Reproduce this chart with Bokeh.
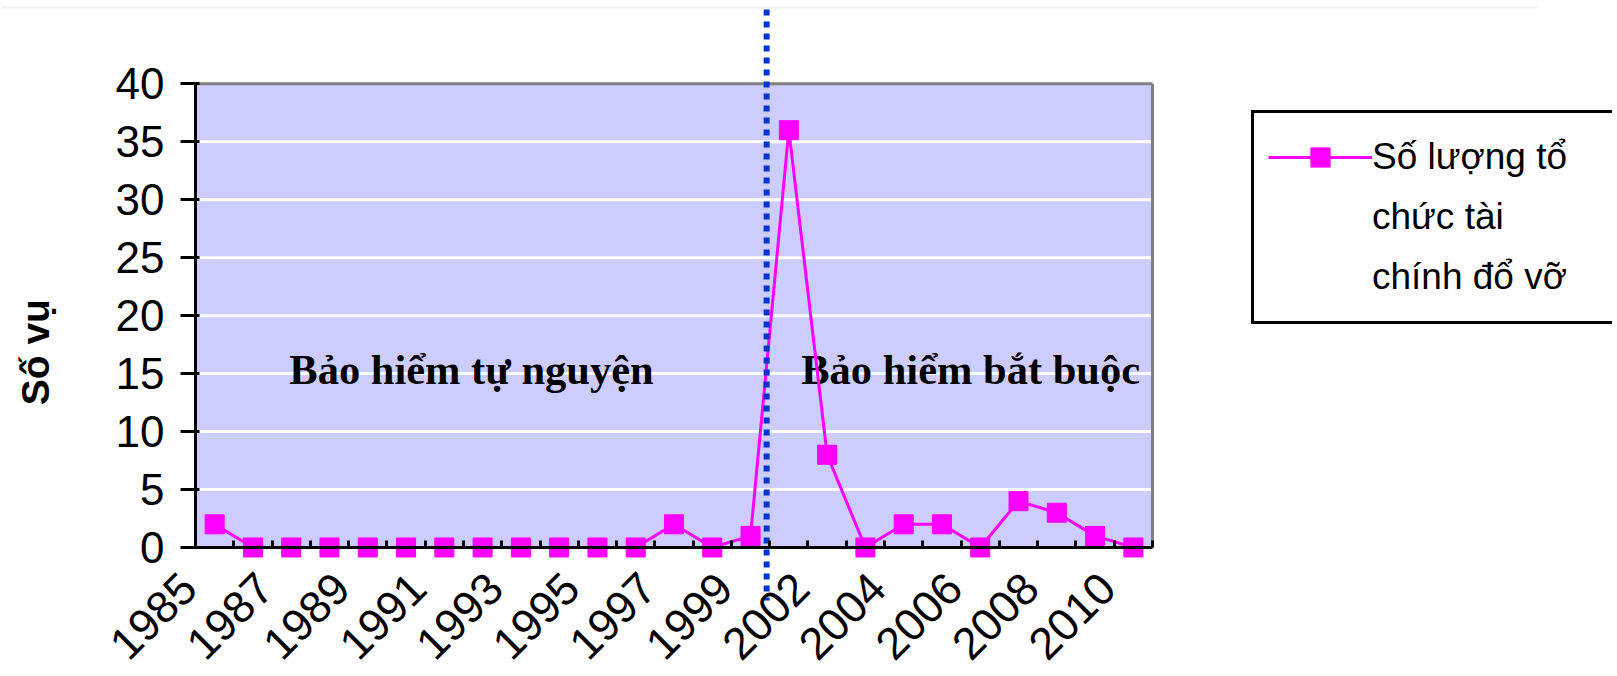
import math
from bokeh.plotting import figure
from bokeh.models import Range1d, FixedTicker, Label, Legend, LegendItem
from bokeh.core.properties import value
from bokeh.embed import file_html
from bokeh.resources import INLINE

# ---------------- data ----------------
years = [str(y) for y in range(1985, 2000)] + [str(y) for y in range(2001, 2011)]
counts = [2, 0, 0, 0, 0, 0, 0, 0, 0, 0, 0, 0, 2, 0, 1, 36, 8, 0, 2, 2, 0, 4, 3, 1, 0]
y_ticks = [0, 5, 10, 15, 20, 25, 30, 35, 40]
label_every = 2
series_lines = ["Số lượng tổ", "chức tài", "chính đổ vỡ"]
y_title = "Số vụ"
region_texts = ["Bảo hiểm tự nguyện", "Bảo hiểm bắt buộc"]

# ---------------- layout constants ----------------
W, H = 1612, 675
n = len(years)
xs = list(range(n))
x_lo, x_hi = -0.5, n - 0.5
y_lo, y_hi = y_ticks[0], y_ticks[-1]

SANS = "Liberation Sans"
SERIF = "Liberation Serif"
MAGENTA = "#FF00FF"
PLOT_BG = "#CCCCFF"

# the frame covers the whole canvas so nothing gets clipped
p = figure(width=W, height=H, output_backend="svg", toolbar_location=None,
           x_range=Range1d(-5.594, 36.517), y_range=Range1d(-11.042, 47.186),
           min_border_left=0, min_border_right=0, min_border_top=0,
           min_border_bottom=0)
p.outline_line_color = None
p.background_fill_color = "white"
p.border_fill_color = "white"
p.xgrid.visible = False
p.ygrid.visible = False

# faint frame line of the surrounding object at the very top
p.segment(x0=[-5.594], x1=[34.56], y0=[46.58], y1=[46.58],
          line_color="#EEF2F2", line_width=2)

# plot-area background
p.quad(left=[x_lo], right=[x_hi], bottom=[y_lo], top=[y_hi],
       fill_color=PLOT_BG, line_color=None)
# horizontal white grid lines
gy = y_ticks[1:-1]
p.segment(x0=[x_lo] * len(gy), x1=[x_hi] * len(gy), y0=gy, y1=gy,
          line_color="white", line_width=3)
# gray top / right border
p.segment(x0=[x_lo, x_hi], x1=[x_hi, x_hi], y0=[y_hi, y_lo], y1=[y_hi, y_hi],
          line_color="#808080", line_width=3)

# region annotations
p.text(x=[6.71, 19.75], y=[15.35, 15.35], text=region_texts,
       text_font=value(SERIF), text_font_style="bold", text_font_size="42.5px",
       text_align="center", text_baseline="alphabetic", text_color="black")

# series
line_r = p.line(xs, counts, line_color=MAGENTA, line_width=3)
sc_r = p.scatter(xs, counts, marker="square", size=19, fill_color=MAGENTA,
                 line_color=MAGENTA)
dummy = p.scatter([], [], marker="square", fill_alpha=0, line_alpha=0)

# divider between voluntary and compulsory periods
p.segment(x0=[14.42], x1=[14.42], y0=[46.41], y1=[-4.57], line_color="#0033CC",
          line_width=6, line_dash="6 6")

# y axis (drawn inside the frame at the plot-area edge)
ya = p.yaxis[0]
ya.fixed_location = x_lo
ya.ticker = FixedTicker(ticks=y_ticks)
ya.bounds = (y_lo, y_hi)
ya.axis_line_color = "black"
ya.axis_line_width = 3
ya.major_tick_line_width = 3
ya.major_tick_line_color = "black"
ya.major_tick_out = 15
ya.major_tick_in = 4
ya.minor_tick_line_color = None
ya.major_label_standoff = 16
ya.major_label_text_font = SANS
ya.major_label_text_font_size = "44px"
ya.major_label_text_color = "black"

# x axis: line + category-boundary ticks; labels drawn as rotated text below
xa = p.xaxis[0]
xa.fixed_location = y_lo
xa.bounds = (x_lo, x_hi)
xa.ticker = FixedTicker(ticks=[], minor_ticks=[i - 0.5 for i in range(n + 1)])
xa.major_tick_line_color = None
xa.major_label_text_alpha = 0
xa.minor_tick_line_color = "black"
xa.minor_tick_line_width = 3
xa.minor_tick_in = 7
xa.minor_tick_out = 0
xa.axis_line_color = "black"
xa.axis_line_width = 3

lab_x = xs[::label_every]
lab_t = [years[i] for i in lab_x]
p.text(x=lab_x, y=[y_lo] * len(lab_x), text=lab_t, angle=math.pi / 4,
       x_offset=-26, y_offset=33, text_align="right", text_baseline="middle",
       text_font=value(SANS), text_font_size="45px", text_color="black")

# y title
p.add_layout(Label(x=x_lo, y=16.85, x_offset=-159.5, text=y_title, angle=math.pi / 2,
                   text_font=SANS, text_font_style="bold", text_font_size="39px",
                   text_align="center", text_baseline="middle", text_color="black"))

# legend
legend = Legend(items=[LegendItem(label=series_lines[0], renderers=[line_r, sc_r]),
                       LegendItem(label=series_lines[1], renderers=[dummy]),
                       LegendItem(label=series_lines[2], renderers=[dummy])],
                location=(1251, 351), orientation="vertical", padding=14, spacing=0,
                margin=0, glyph_width=104, glyph_height=48, label_standoff=0,
                label_width=226, label_height=60, border_line_color="black",
                border_line_width=3, border_line_alpha=1.0,
                background_fill_color="white", background_fill_alpha=1,
                label_text_font=SANS, label_text_font_size="37px",
                label_text_color="black")
p.add_layout(legend)

open("out.html", "w").write(file_html(p, INLINE))
